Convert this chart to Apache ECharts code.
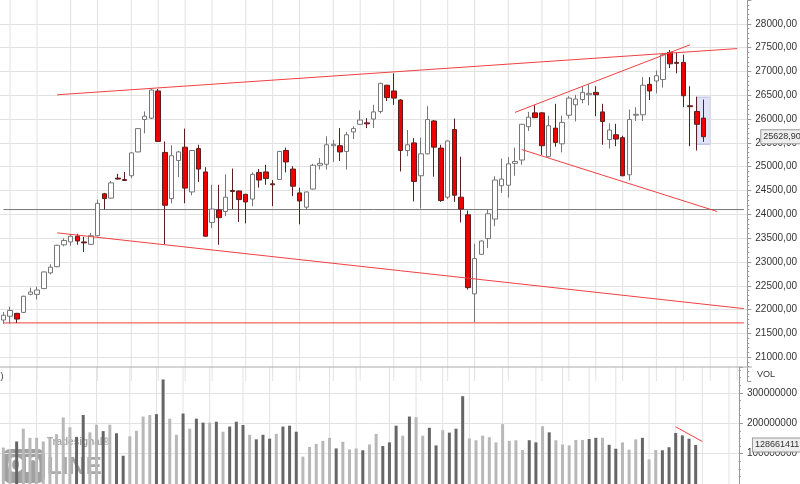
<!DOCTYPE html>
<html>
<head>
<meta charset="utf-8">
<script src="https://cdn.jsdelivr.net/npm/echarts@6/dist/echarts.min.js"></script>
<style>html,body{margin:0;padding:0;background:#fff}#main{width:800px;height:484px}</style>
</head>
<body>
<div id="main"></div>
<script>
// daily candles
var opens  = [21780,21860,21920,21940,22320,22320,22440,22770,22900,23360,23420,23540,23420,23370,23550,24430,24340,24760,24730,24810,
              25310,25990,26020,26590,25300,24330,25130,25410,24470,25380,24890,23830,24090,24060,24500,24490,24420,24320,24880,24890,
              24640,24730,25340,24950,24450,24150,24530,25030,25050,25440,25440,25320,25730,25890,25920,26000,26160,26710,26590,26400,
              25340,25500,24810,25270,25960,25390,24360,25780,24360,23990,22330,23160,23490,23900,24600,24610,25070,25140,25840,26130,
              26130,25210,25810,25480,26080,26300,26410,26510,26560,26150,25570,25670,25610,24830,26080,26090,26730,26800,26830,27400,
              27190,27190,26280,26160,26020];
var closes = [21880,21980,21800,22280,22370,22410,22790,22890,23350,23450,23540,23440,23400,23550,24230,24330,24660,24740,24710,25290,
              25800,26060,26610,25530,24190,25230,25310,24550,25340,24950,23540,24110,23930,24360,24480,24310,24260,24840,24720,24750,
              24620,25320,25100,24590,24280,24470,25030,25070,25460,25470,25310,25670,25800,25980,25900,26150,26750,26450,26440,25340,
              25460,24690,25270,25990,25410,24290,25540,24400,24110,22460,23070,23440,24010,24720,24740,25060,25110,25890,26040,26030,
              25440,25860,25510,25930,26440,26420,26560,26540,26510,25950,25770,25580,24810,25990,26100,26710,26590,26910,27350,27160,
              27170,26490,26260,25890,25628.9];
var lows   = [21700,21700,21720,21930,22300,22210,22430,22740,22890,23330,23340,23360,23210,23360,23540,24100,24330,24730,24700,24760,
              25300,25700,26000,25520,23370,24230,24780,24230,24400,24680,23530,23710,23360,23960,24110,23840,23810,24170,24560,24620,
              24170,24720,24880,24380,23790,24090,24520,24940,24940,25100,25120,24940,25580,25880,25810,25810,26120,26380,26300,24900,
              25220,24270,24120,25260,24790,24260,24320,24260,23830,22420,21740,23150,23290,23750,24450,24350,24810,25040,25750,26020,
              25250,25200,25420,25300,26010,25950,26330,26290,26060,25460,25380,25430,24800,24710,25960,25960,26400,26540,26660,27070,
              26960,26250,25430,25340,25520];
var highs  = [21950,22060,21930,22290,22460,22480,22800,22950,23360,23500,23580,23590,23530,23610,24310,24450,24700,24850,24890,25300,
              25810,26160,26630,26630,25530,25450,25330,25800,25350,25460,24990,24620,24620,24840,24960,24500,24430,24880,24950,25040,
              24720,25330,25400,25010,24560,24480,25060,25180,25640,25560,25810,25730,25850,26180,26020,26300,26760,26720,26960,26420,
              25770,25600,25610,26270,25980,25460,25550,26010,25210,24080,23380,23450,24090,24800,25170,25200,25400,25900,26150,26290,
              26140,26070,26320,26070,26480,26510,26690,26730,26690,26320,25910,25900,25650,26200,26250,26880,26880,27020,27390,27450,
              27400,27350,26690,26470,26410];
// volume in millions
var volumes = [120,110,140,182,152,152,140,152,164,219,187,155,227,170,195,174,195,167,93,157,
               175,222,227,230,344,215,162,232,182,215,202,202,205,172,189,205,194,162,147,162,
               149,165,189,192,172,90,122,132,142,152,117,139,114,117,111,130,165,125,137,192,
               159,222,220,159,185,127,177,169,182,289,150,144,159,154,137,197,142,144,112,144,
               137,190,170,144,130,127,145,145,148,152,152,129,116,137,113,147,152,81,112,111,
               121,168,160,149,128.661411];
var slotCount = 111;
var weekLines = [1,5,10,14,19,23,27,31,36,40,44,49,53,58,62,66,70,75,80,84,88,92,97,101,105,109];
var supportLevel = 21720;
var middleLevel = 24100;
var lastPrice = 25628.9;
var lastVol = 128661411;

var cats = [], candles = [], vols = [];
for (var i = 0; i < slotCount; i++) cats.push(String(i + 1));
for (var i = 0; i < opens.length; i++) {
  candles.push([opens[i], closes[i], lows[i], highs[i]]);
  vols.push({value: volumes[i] * 1e6,
             itemStyle: {color: closes[i] < opens[i] ? '#666' : '#b8b8b8'}});
}

var chart = echarts.init(document.getElementById('main'));
function ls(color) { return {color: color, width: 1, type: 'solid'}; }
function seg(x1, y1, x2, y2, color) {
  return [{coord: [cats[x1], y1], lineStyle: ls(color)}, {coord: [cats[x2], y2]}];
}
function tag(text) {
  return {show: true, position: 'end', distance: 14, formatter: text, fontSize: 9, color: '#333',
          backgroundColor: '#eee', borderColor: '#999', borderWidth: 1, padding: [2, 2]};
}
var split = {show: true, lineStyle: {color: '#e2e2e2', width: 1}, showMinLine: false, showMaxLine: false};

// vertical week lines: one broken line series per pane
function weekGrid(axis, lo, hi) {
  var pts = [];
  weekLines.forEach(function (w) {
    pts.push([cats[w], lo], [cats[w], hi], [cats[w], null]);
  });
  return {type: 'line', xAxisIndex: axis, yAxisIndex: axis, silent: true, symbol: 'none', z: 1,
          connectNulls: false, data: pts, lineStyle: {color: '#e2e2e2', width: 1}};
}
function levelLine(v, color) {
  return {type: 'line', xAxisIndex: 0, yAxisIndex: 0, silent: true, symbol: 'none', z: 2,
          data: [[cats[0], v], [cats[slotCount - 1], v]], lineStyle: {color: color, width: 1}};
}

var priceMarks = [
  seg(8, 26510, 109, 27480, '#f04040'),
  seg(8, 23610, 110, 22020, '#f04040'),
  seg(76, 26140, 102, 27560, '#f04040'),
  seg(77, 25360, 106, 24060, '#f04040'),
  {yAxis: lastPrice, lineStyle: {color: 'rgba(0,0,0,0)', width: 0}, label: tag('25628,90')}
];
var volMarks = [
  seg(101, 188e6, 105, 140e6, '#f04040'),
  {yAxis: lastVol, lineStyle: {color: 'rgba(0,0,0,0)', width: 0}, label: tag(String(lastVol))}
];

var option = {
  animation: false,
  textStyle: {fontFamily: 'Arial, Liberation Sans'},
  grid: [
    {left: -3, right: 51, top: -8, bottom: 103},
    {left: -3, right: 51, top: 367, bottom: -12}
  ],
  xAxis: [
    {type: 'category', data: cats, gridIndex: 0, axisLine: {show: false}, axisTick: {show: false},
     axisLabel: {show: false}, splitLine: {show: false}},
    {type: 'category', data: cats, gridIndex: 1, axisLine: {show: false}, axisTick: {show: false},
     axisLabel: {show: false}, splitLine: {show: false}}
  ],
  yAxis: [
    {type: 'value', gridIndex: 0, position: 'right', min: 20500, max: 28500, interval: 500,
     axisLine: {show: true, lineStyle: {color: '#999'}}, axisTick: {show: true, length: 4, lineStyle: {color: '#999'}},
     minorTick: {show: true, splitNumber: 5, length: 2, lineStyle: {color: '#999'}},
     splitLine: split,
     axisLabel: {fontSize: 10, color: '#333', margin: 8, showMinLabel: false, showMaxLabel: false,
                 formatter: function (v) { return v.toFixed(2).replace('.', ','); }}},
    {type: 'value', gridIndex: 1, position: 'right', min: 0, max: 385000000, interval: 100000000,
     axisLine: {show: true, lineStyle: {color: '#999'}}, axisTick: {show: true, length: 4, lineStyle: {color: '#999'}},
     minorTick: {show: true, splitNumber: 4, length: 2, lineStyle: {color: '#999'}},
     splitLine: split,
     axisLabel: {fontSize: 10, color: '#333', margin: 8, showMinLabel: false, showMaxLabel: false,
                 formatter: function (v) { return String(v); }}}
  ],
  graphic: [
    {type: 'line', shape: {x1: 0, y1: 367, x2: 752, y2: 367}, style: {stroke: '#aaa'}, z: 10},
    {type: 'rect', shape: {x: 752, y: 360, width: 48, height: 12}, style: {fill: '#fff'}, zlevel: 1},
    {type: 'text', left: 757, top: 370, style: {text: 'VOL', fontSize: 9, fill: '#333'}, zlevel: 1},
    {type: 'text', left: -2, top: 372, style: {text: 'I)', fontSize: 9, fill: '#333'}},
    {type: 'group', left: 3, top: 437, zlevel: 1, children: [
      {type: 'text', left: 44, top: 0, style: {text: 'Tradesignal®', fontSize: 10, fontWeight: 'bold', fill: '#a8a8a8'}},
      {type: 'rect', left: 0, top: 12, shape: {width: 42, height: 34, r: 7}, style: {fill: '#a0a0a0'}},
      {type: 'text', left: 4, top: 13, style: {text: 'on', fontSize: 28, fontWeight: 'bold', fill: '#fff'}},
      {type: 'rect', left: 42, top: 16, shape: {width: 56, height: 30}, style: {fill: 'rgba(255,255,255,0.85)'}},
      {type: 'text', left: 44, top: 18, style: {text: 'LINE', fontSize: 24, fontWeight: 'bold', fill: '#a8a8a8'}}
    ]}
  ],
  series: [
    weekGrid(0, 20500, 28500),
    weekGrid(1, 0, 385e6),
    levelLine(middleLevel, '#777'),
    levelLine(supportLevel, '#f04040'),
    {type: 'candlestick', xAxisIndex: 0, yAxisIndex: 0, data: candles, barWidth: 5, z: 3,
     itemStyle: {color: '#fff', color0: '#ee0000', borderColor: '#777', borderColor0: '#5a2020', borderWidth: 1},
     markLine: {silent: true, symbol: 'none', label: {show: false}, data: priceMarks},
     markArea: {silent: true, itemStyle: {color: 'rgba(190,195,240,0.45)', borderColor: '#b8bce8', borderWidth: 1},
                data: [[{xAxis: cats[103], yAxis: 26460}, {xAxis: cats[105], yAxis: 25470}]]}},
    {type: 'bar', xAxisIndex: 1, yAxisIndex: 1, data: vols, barWidth: 3, z: 3,
     markLine: {silent: true, symbol: 'none', label: {show: false}, data: volMarks}}
  ]
};
chart.setOption(option);
</script>
</body>
</html>
